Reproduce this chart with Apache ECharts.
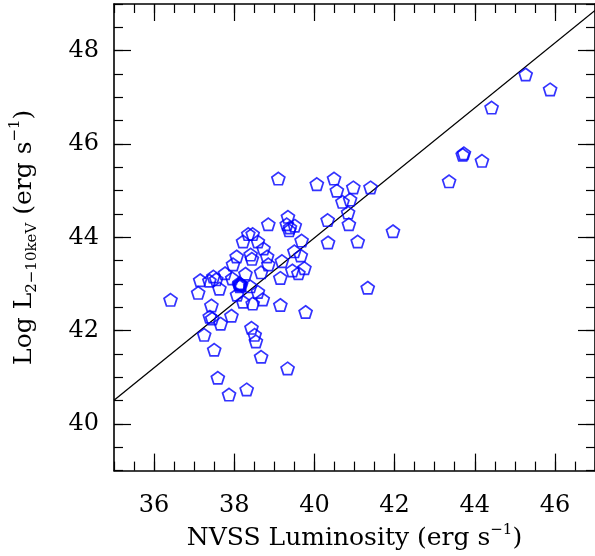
<!DOCTYPE html>
<html>
<head>
<meta charset="utf-8">
<script src="https://cdn.jsdelivr.net/npm/echarts@6/dist/echarts.min.js"></script>
<style>
  html, body { margin: 0; padding: 0; background: #fff; }
  #chart { width: 595px; height: 556px; }
</style>
</head>
<body>
<div id="chart"></div>
<script>
  // log NVSS radio luminosity (x) vs log 2-10 keV luminosity (y)
  var nvssLum = [
    36.41, 37.10, 37.15, 37.38, 37.48, 37.55, 37.63, 37.43, 37.39, 37.45,
    37.66, 37.93, 37.25, 37.50, 37.59, 37.87, 38.31, 38.43, 38.51, 38.54,
    38.67, 39.33, 39.78, 39.15, 38.22, 38.46, 38.71, 38.07, 38.59, 38.40,
    38.13, 38.15, 38.17, 38.14, 38.12, 38.28, 38.67, 39.15, 37.77, 37.97,
    38.06, 38.41, 38.44, 38.82, 38.85, 38.73, 38.22, 38.35, 38.46, 38.59,
    38.85, 39.10, 40.06, 40.49, 40.56, 40.97, 41.40, 40.70, 40.89, 40.84,
    40.33, 40.86, 41.96, 41.08, 40.34, 39.34, 39.31, 39.39, 39.51, 39.37,
    39.68, 39.50, 39.66, 39.19, 39.45, 39.60, 39.75, 41.33, 45.27, 45.88,
    44.42, 43.70, 43.73, 44.18, 43.36, 37.95
  ];
  var xrayLum = [
    42.66, 42.81, 43.08, 43.07, 43.16, 43.10, 42.90, 42.54, 42.30, 42.26,
    42.15, 42.32, 41.91, 41.59, 40.99, 40.63, 40.74, 42.06, 41.91, 41.77,
    41.44, 41.19, 42.40, 42.55, 42.62, 42.58, 42.67, 42.77, 42.83, 42.95,
    43.02, 43.00, 42.98, 42.95, 42.99, 43.22, 43.25, 43.13, 43.23, 43.42,
    43.59, 43.63, 43.54, 43.59, 43.42, 43.76, 43.91, 44.07, 44.07, 43.91,
    44.28, 45.26, 45.14, 45.26, 45.00, 45.07, 45.07, 44.76, 44.81, 44.53,
    44.37, 44.28, 44.13, 43.91, 43.89, 44.44, 44.28, 44.21, 44.25, 44.15,
    43.93, 43.70, 43.61, 43.49, 43.29, 43.23, 43.34, 42.92, 47.49, 47.17,
    46.78, 45.77, 45.80, 45.64, 45.20, 43.12
  ];

  // best-fit line end points
  var fitX = [35, 47];
  var fitY = [40.51, 48.86];

  var xMajorTicks = [36, 38, 40, 42, 44, 46];
  var yMajorTicks = [40, 42, 44, 46, 48];

  var font = 'DejaVu Serif';
  var pentagon = 'path://M0,-1L0.951,-0.309L0.588,0.809L-0.588,0.809L-0.951,-0.309Z';

  var points = nvssLum.map(function (x, i) { return [x, xrayLum[i]]; });
  var fitLine = fitX.map(function (x, i) { return [x, fitY[i]]; });

  // frame side with small ticks every 0.5
  function minorAxis(pos, min, max) {
    return {
      type: 'value', position: pos, min: min, max: max, interval: 0.5,
      axisLine: { show: true, onZero: false, lineStyle: { color: '#000', width: 1.6 } },
      axisTick: { show: true, inside: true, length: 9, lineStyle: { color: '#000', width: 1.2 } },
      axisLabel: { show: false },
      splitLine: { show: false }
    };
  }

  // same side, long ticks on the even values (labels only on bottom/left)
  function majorAxis(pos, min, max, ticks, withLabels) {
    return {
      type: 'value', position: pos, min: min, max: max,
      axisLine: { show: false, onZero: false },
      axisTick: { show: true, inside: true, length: 17, customValues: ticks,
                  lineStyle: { color: '#000', width: 1.2 } },
      axisLabel: { show: withLabels, customValues: ticks, margin: 23,
                   fontFamily: font, fontSize: 24, color: '#000' },
      splitLine: { show: false }
    };
  }

  var xBottom = majorAxis('bottom', 35, 47, xMajorTicks, true);
  xBottom.name = '{n|NVSS Luminosity (erg s}{sup|−1}{n|)}';
  xBottom.nameLocation = 'middle';
  xBottom.nameGap = 50;
  xBottom.nameTextStyle = {
    rich: {
      n: { fontFamily: font, fontSize: 25, color: '#000', lineHeight: 32 },
      sup: { fontFamily: font, fontSize: 15, color: '#000', lineHeight: 32, verticalAlign: 'top' }
    }
  };

  var yLeft = majorAxis('left', 39, 49, yMajorTicks, true);
  yLeft.axisLabel.margin = 15;
  yLeft.name = '{n|Log L}{sub|2−10keV}{n| (erg s}{sup|−1}{n|)}';
  yLeft.nameLocation = 'middle';
  yLeft.nameGap = 74;
  yLeft.nameTextStyle = {
    padding: [0, 0, 0, 0],
    rich: {
      n: { fontFamily: font, fontSize: 25, color: '#000', lineHeight: 32 },
      sub: { fontFamily: font, fontSize: 15, color: '#000', lineHeight: 32, verticalAlign: 'bottom' },
      sup: { fontFamily: font, fontSize: 15, color: '#000', lineHeight: 32, verticalAlign: 'top' }
    }
  };

  var chart = echarts.init(document.getElementById('chart'));
  chart.setOption({
    backgroundColor: '#fff',
    animation: false,
    grid: { left: 105, top: 4, width: 499, height: 472 },
    xAxis: [
      minorAxis('bottom', 35, 47),
      xBottom,
      minorAxis('top', 35, 47),
      majorAxis('top', 35, 47, xMajorTicks, false)
    ],
    yAxis: [
      minorAxis('left', 39, 49),
      yLeft,
      minorAxis('right', 39, 49),
      majorAxis('right', 39, 49, yMajorTicks, false)
    ],
    series: [
      {
        type: 'line',
        data: fitLine,
        showSymbol: false,
        lineStyle: { color: '#000', width: 1.3 },
        silent: true,
        z: 1
      },
      {
        type: 'scatter',
        data: points,
        symbol: pentagon,
        symbolSize: [13, 12.4],
        itemStyle: { color: 'rgba(0,0,0,0)', borderColor: '#0000ff', borderWidth: 1.7 },
        z: 2
      }
    ]
  });
</script>
</body>
</html>
